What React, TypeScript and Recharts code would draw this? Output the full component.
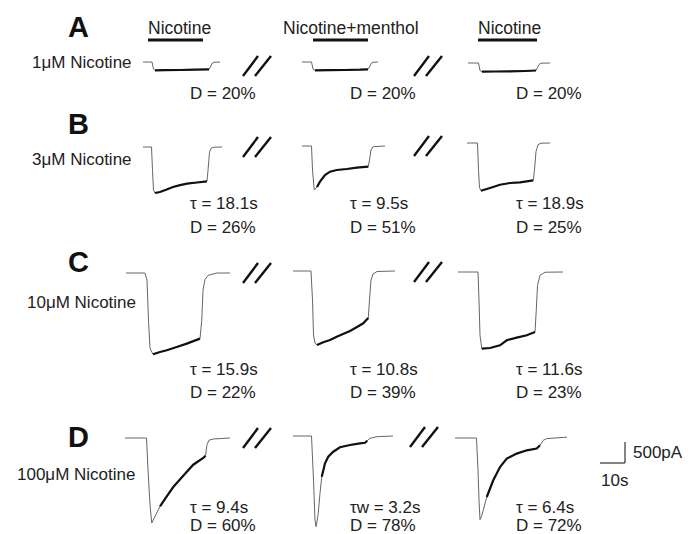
import React from 'react'
import { LineChart, Line, XAxis, YAxis } from 'recharts'

// scale of the recording: 10 s = 25 px, 500 pA = 21 px
const PX_PER_S = 2.5
const PX_PER_PA = 21 / 500

// each trace: [time (s), current (pA)]
const traceA1 = [[0, 0], [3.6, 0], [4.2, -167], [4.8, -198], [8.8, -195], [14.8, -190], [20.8, -183], [26.4, -174], [27, -119], [27.6, -36], [28.4, -7], [30.8, 0]]
const traceA2 = [[0, 0], [3.8, 0], [4.4, -167], [5.2, -198], [11.2, -195], [17.2, -190], [23.2, -183], [26.4, -174], [27, -119], [27.6, -36], [28.4, -7], [30.4, 0]]
const traceA3 = [[0, 0], [4.2, 0], [4.8, -179], [5.6, -207], [10.8, -202], [16.8, -198], [22.8, -190], [27.2, -179], [27.8, -107], [28.4, -36], [29.2, -5], [32.8, 0]]

const traceB1 = [[0, 0], [3.4, 0], [3.8, -555], [4.2, -1031], [4.8, -1095], [6.8, -1071], [9.2, -1019], [12, -952], [14.8, -907], [17.6, -871], [21.6, -845], [25.6, -817], [26, -555], [26.6, -126], [27.2, -31], [28.4, -5], [31.6, 0]]
const traceB2 = [[0, 0], [3.8, 0], [4.2, -571], [4.9, -1048], [6, -976], [7.2, -850], [9.2, -690], [11.2, -612], [13.9, -571], [17.9, -548], [21.9, -517], [26.5, -493], [27, -333], [27.6, -95], [28.4, -17], [33.2, 0]]
const traceB3 = [[0, 0], [4.2, 0], [4.6, -636], [5, -1064], [5.6, -1136], [9.2, -1071], [13.2, -993], [17.2, -952], [21.2, -938], [26.5, -890], [27, -636], [27.6, -207], [28.4, -40], [29.6, -5], [33.2, 0]]

const traceC1 = [[0, 0], [7.6, 0], [8.4, -174], [9, -1126], [9.6, -1793], [10.8, -1936], [13.6, -1881], [16.3, -1840], [20.3, -1762], [24.3, -1681], [29.6, -1562], [30.3, -1126], [30.8, -412], [31.6, -150], [32.9, -55], [36.3, 0], [41.6, 0]]
const traceC2 = [[0, 0], [7.2, 0], [7.8, -690], [8.2, -1524], [8.8, -1714], [9.6, -1762], [12.1, -1698], [14.8, -1643], [17.5, -1564], [20, -1500], [22.8, -1429], [25.6, -1333], [28.1, -1245], [30.1, -1119], [30.6, -690], [31.2, -214], [32, -71], [33.6, -12], [40.8, 0]]
const traceC3 = [[0, 0], [8, 0], [8.4, -674], [8.8, -1507], [9.5, -1824], [12.8, -1810], [16.8, -1745], [19.5, -1626], [23.5, -1562], [27.5, -1507], [30.8, -1429], [31.3, -912], [31.8, -317], [32.8, -79], [34.8, -5], [42, 0]]

const traceD1 = [[0, 0], [8.6, 0], [9.2, -755], [10, -1588], [10.7, -2024], [12, -1867], [14, -1629], [16.7, -1390], [19.3, -1167], [23.3, -898], [27.3, -636], [31.3, -476], [32.2, -421], [32.8, -160], [33.6, -52], [35.3, -24], [42, 0]]
const traceD2 = [[0, 0], [7.4, 0], [8.2, -1048], [8.8, -2000], [9.2, -2160], [9.7, -2000], [10.1, -1840], [10.8, -1364], [11.5, -969], [12.8, -650], [14.1, -493], [16.1, -374], [18.8, -269], [22.8, -214], [26.8, -174], [28.8, -160], [29.7, -112], [30.8, -55], [33.5, -17], [40, 0]]
const traceD3 = [[0, 0], [8.6, 0], [9.2, -769], [9.6, -1483], [10, -1943], [10.6, -1864], [11.3, -1721], [12.7, -1405], [15.3, -1007], [18, -690], [20.7, -490], [24.7, -371], [28.7, -293], [32.7, -252], [34, -174], [35.3, -55], [36.7, -14], [44.8, 20]]

// time window (s) where the noisy response is drawn heavier
const responseWindows = [
  [[4.8, 26.4], [5.2, 26.4], [5.6, 27.2]],
  [[4.8, 25.6], [6, 26.5], [5.6, 26.5]],
  [[10.8, 29.6], [9.6, 30.1], [9.5, 30.8]],
  [[14, 32.2], [11.5, 29.7], [12.7, 34]],
]

const rowTraces = [
  [traceA1, traceA2, traceA3],
  [traceB1, traceB2, traceB3],
  [traceC1, traceC2, traceC3],
  [traceD1, traceD2, traceD3],
]

const rowLetters = ['A', 'B', 'C', 'D']
const rowLabels = ['1μM Nicotine', '3μM Nicotine', '10μM Nicotine', '100μM Nicotine']
const headers = ['Nicotine', 'Nicotine+menthol', 'Nicotine']
const tauTexts = [
  [null, null, null],
  ['τ = 18.1s', 'τ = 9.5s', 'τ = 18.9s'],
  ['τ = 15.9s', 'τ = 10.8s', 'τ = 11.6s'],
  ['τ = 9.4s', 'τw = 3.2s', 'τ = 6.4s'],
]
const dTexts = [
  ['D = 20%', 'D = 20%', 'D = 20%'],
  ['D = 26%', 'D = 51%', 'D = 25%'],
  ['D = 22%', 'D = 39%', 'D = 23%'],
  ['D = 60%', 'D = 78%', 'D = 72%'],
]
const scaleTime = 10
const scaleCurrent = 500

// layout
const traceLeft = [[143, 302, 468], [143, 302, 467], [126, 293, 458], [125, 293, 455]]
const traceBase = [[62, 62, 62.5], [146.7, 146, 143.3], [272.7, 271, 271.7], [438.3, 436, 437.7]]
const letterBaseline = [37, 134, 272, 447]
const labelLeft = [32, 32, 27, 17]
const labelBaseline = [68, 165, 308, 480]
const statLeft = [190, 350, 516]
const tauBaseline = [0, 209, 375, 513]
const dBaseline = [99, 233, 398, 531]
const headerLeft = [148, 283, 478]
const barSpan = [[148, 203], [313, 368], [478, 537]]
const slashPos = [[[243, 76], [414, 76]], [[243, 157], [414, 156]], [[243, 283], [414, 282]], [[243, 448], [410, 447]]]

const CHART_W = 120
const CHART_H = 100
const PAD_TOP = 6
const FONT = '"Liberation Sans", Arial, sans-serif'
const INK = '#222'

function Trace({ points, win, left, base }: { points: number[][]; win: number[]; left: number; base: number }) {
  const data = points.map(([t, i]) => ({ t, i, r: t >= win[0] && t <= win[1] ? i : null }))
  return (
    <div style={{ position: 'absolute', left, top: base - PAD_TOP }}>
      <LineChart width={CHART_W} height={CHART_H} data={data} margin={{ top: 0, right: 0, bottom: 0, left: 0 }}>
        <XAxis dataKey="t" type="number" domain={[0, CHART_W / PX_PER_S]} hide allowDataOverflow />
        <YAxis type="number" domain={[-(CHART_H - PAD_TOP) / PX_PER_PA, PAD_TOP / PX_PER_PA]} hide allowDataOverflow />
        <Line type="linear" dataKey="i" stroke="#666" strokeWidth={1} dot={false} isAnimationActive={false} />
        <Line type="linear" dataKey="r" stroke="#111" strokeWidth={2.2} dot={false} isAnimationActive={false} connectNulls={false} />
      </LineChart>
    </div>
  )
}

function Slash({ x, y }: { x: number; y: number }) {
  return (
    <g stroke="#111" strokeWidth={2.4}>
      <line x1={x} y1={y} x2={x + 15} y2={y - 20} />
      <line x1={x + 12} y1={y} x2={x + 28} y2={y - 20} />
    </g>
  )
}

export default function App() {
  const sbX = 625
  const sbY = 463
  return (
    <div style={{ position: 'absolute', left: 0, top: 0, width: 697, height: 534, background: '#fff', overflow: 'hidden' }}>
      {rowTraces.map((row, r) =>
        row.map((points, c) => (
          <Trace key={`${r}-${c}`} points={points} win={responseWindows[r][c]} left={traceLeft[r][c]} base={traceBase[r][c]} />
        ))
      )}
      <svg width={697} height={534} style={{ position: 'absolute', left: 0, top: 0, pointerEvents: 'none' }} fontFamily={FONT} fill={INK}>
        {headers.map((h, c) => (
          <g key={h + c}>
            <text x={headerLeft[c]} y={34} fontSize={17.5}>{h}</text>
            <line x1={barSpan[c][0]} x2={barSpan[c][1]} y1={40} y2={40} stroke="#111" strokeWidth={3} />
          </g>
        ))}
        {rowLetters.map((l, r) => (
          <g key={l}>
            <text x={68} y={letterBaseline[r]} fontSize={29} fontWeight="bold" fill="#111">{l}</text>
            <text x={labelLeft[r]} y={labelBaseline[r]} fontSize={17}>{rowLabels[r]}</text>
            {tauTexts[r].map((t, c) => t && (
              <text key={'t' + c} x={statLeft[c]} y={tauBaseline[r]} fontSize={17}>{t}</text>
            ))}
            {dTexts[r].map((t, c) => (
              <text key={'d' + c} x={statLeft[c]} y={dBaseline[r]} fontSize={17}>{t}</text>
            ))}
            {slashPos[r].map(([x, y], i) => <Slash key={i} x={x} y={y} />)}
          </g>
        ))}
        <g stroke="#333" strokeWidth={1.2}>
          <line x1={sbX} x2={sbX} y1={sbY} y2={sbY - scaleCurrent * PX_PER_PA} />
          <line x1={sbX - scaleTime * PX_PER_S} x2={sbX} y1={sbY} y2={sbY} />
        </g>
        <text x={633} y={458} fontSize={17}>{`${scaleCurrent}pA`}</text>
        <text x={601} y={486} fontSize={17}>{`${scaleTime}s`}</text>
      </svg>
    </div>
  )
}
